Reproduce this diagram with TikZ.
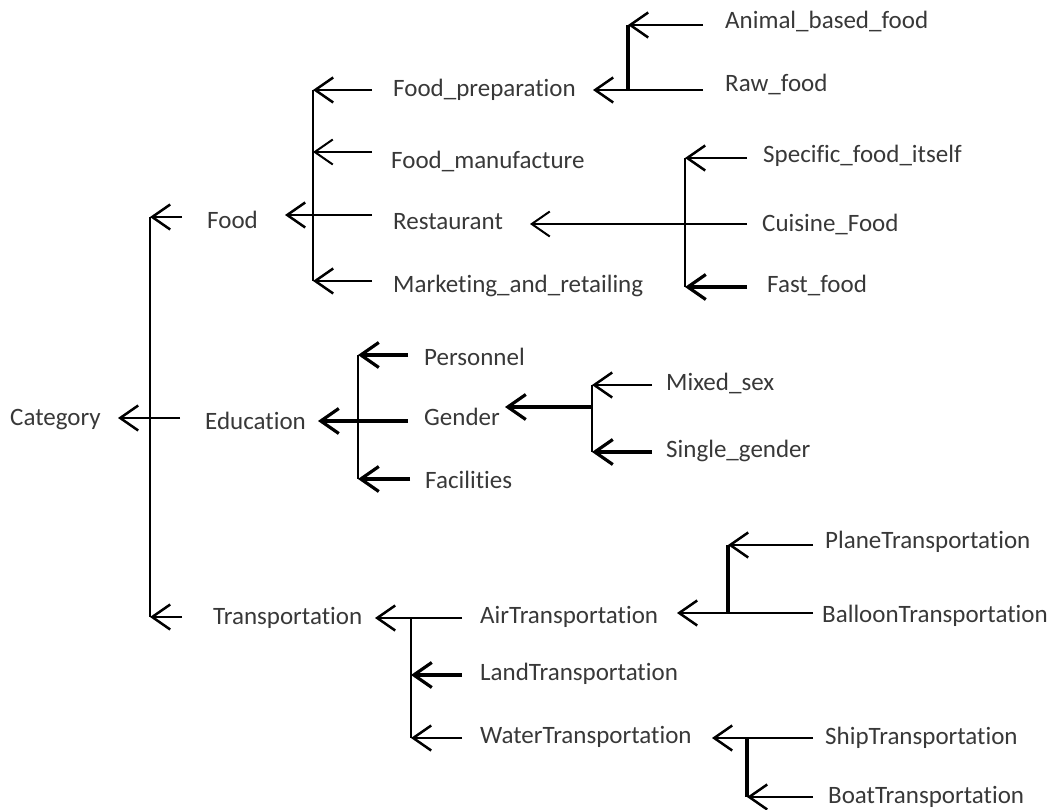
\documentclass[tikz,border=0pt]{standalone}
\usepackage{fontspec}
\setmainfont{Carlito}[Ligatures=NoCommon]
\usetikzlibrary{arrows.meta}

\begin{document}
\begin{tikzpicture}[x=1pt,y=-1pt,
  lbl/.style={anchor=west, inner sep=0pt, text height=16pt, text depth=0pt,
              font=\fontsize{25}{30}\selectfont, text=black!78},
  link/.style={line width=2.5pt, black},
  arr/.style={link, -{Straight Barb[length=18pt,width=25pt]}},
  heavy/.style={line width=3.2pt}]
\useasboundingbox (0,0) rectangle (1061,810);

% ---------- labels ----------
\node[lbl] (cat)   at (10,418)  {Category};
\node[lbl] (food)  at (207,221) {Food};
\node[lbl] (edu)   at (205,421) {Education};
\node[lbl] (tr)    at (213,616) {Transportation};

\node[lbl] (fprep) at (393,89)  {Food\_preparation};
\node[lbl] (fman)  at (391,161) {Food\_manufacture};
\node[lbl] (rest)  at (393,222) {Restaurant};
\node[lbl] (mkt)   at (393,285) {Marketing\_and\_retailing};

\node[lbl] (anim)  at (725,21)  {Animal\_based\_food};
\node[lbl] (raw)   at (725,84)  {Raw\_food};

\node[lbl] (spec)  at (763,155) {Specific\_food\_itself};
\node[lbl] (cuis)  at (762,224) {Cuisine\_Food};
\node[lbl] (fast)  at (767,285) {Fast\_food};

\node[lbl] (pers)  at (424,358) {Personnel};
\node[lbl] (gend)  at (424,418) {Gender};
\node[lbl] (faci)  at (425,480) {Facilities};

\node[lbl] (mix)   at (666,383) {Mixed\_sex};
\node[lbl] (sing)  at (666,449) {Single\_gender};

\node[lbl] (air)   at (480,615) {AirTransportation};
\node[lbl] (land)  at (480,672) {LandTransportation};
\node[lbl] (water) at (480,735) {WaterTransportation};

\node[lbl] (plane) at (825,540) {PlaneTransportation};
\node[lbl] (ball)  at (822,614) {BalloonTransportation};
\node[lbl] (ship)  at (825,736) {ShipTransportation};
\node[lbl] (boat)  at (828,795) {BoatTransportation};

% ---------- Category ----------
\coordinate (c-food) at (182,217);  \coordinate (c-top) at (150,217);
\coordinate (c-edu)  at (180,418);  \coordinate (c-tip) at (118,418);
\coordinate (c-tr)   at (182,617);  \coordinate (c-bot) at (150,617);
\draw[link] (c-top) -- (c-bot);
\draw[arr] (c-food) -- (c-top);
\draw[arr] (c-edu) -- (c-tip);
\draw[arr] (c-tr) -- (c-bot);

% ---------- Food ----------
\coordinate (f-prep) at (372,90);  \coordinate (f-top) at (313,90);
\coordinate (f-man)  at (372,152); \coordinate (f-man-t) at (313,152);
\coordinate (f-rest) at (372,215); \coordinate (f-tip) at (285,215);
\coordinate (f-mkt)  at (372,281); \coordinate (f-bot) at (313,281);
\draw[link] (f-top) -- (f-bot);
\draw[arr] (f-prep) -- (f-top);
\draw[arr, line width=2pt] (f-man) -- (f-man-t);
\draw[arr] (f-rest) -- (f-tip);
\draw[arr] (f-mkt) -- (f-bot);

% ---------- Food_preparation ----------
\coordinate (p-anim) at (703,25); \coordinate (p-top) at (628,25);
\coordinate (p-raw)  at (703,90); \coordinate (p-bot) at (628,90);
\coordinate (p-tip)  at (593,90);
\draw[link, heavy] (p-top) -- (p-bot);
\draw[arr] (p-anim) -- (p-top);
\draw[arr] (p-raw) -- (p-tip);

% ---------- Restaurant ----------
\coordinate (r-spec) at (747,158); \coordinate (r-top) at (685,158);
\coordinate (r-cuis) at (747,224); \coordinate (r-tip) at (530,224);
\coordinate (r-fast) at (747,287); \coordinate (r-bot) at (685,287);
\draw[link] (r-top) -- (r-bot);
\draw[arr] (r-spec) -- (r-top);
\draw[arr, line width=2pt] (r-cuis) -- (r-tip);
\draw[arr, heavy] (r-fast) -- (r-bot);

% ---------- Education ----------
\coordinate (e-pers) at (408,355); \coordinate (e-top) at (358,355);
\coordinate (e-gend) at (408,421); \coordinate (e-tip) at (318,421);
\coordinate (e-faci) at (410,479); \coordinate (e-bot) at (358,479);
\draw[link] (e-top) -- (e-bot);
\draw[arr, heavy] (e-pers) -- (e-top);
\draw[arr, heavy] (e-gend) -- (e-tip);
\draw[arr, heavy] (e-faci) -- (e-bot);

% ---------- Gender ----------
\coordinate (g-mix)  at (652,385); \coordinate (g-top) at (592,385);
\coordinate (g-sing) at (652,452); \coordinate (g-bot) at (592,452);
\coordinate (g-mid)  at (592,407); \coordinate (g-tip) at (505,407);
\draw[link] (g-top) -- (g-bot);
\draw[arr] (g-mix) -- (g-top);
\draw[arr, heavy] (g-sing) -- (g-bot);
\draw[arr, heavy] (g-mid) -- (g-tip);

% ---------- Transportation ----------
\coordinate (t-air)   at (462,618); \coordinate (t-top) at (411,618);
\coordinate (t-tip)   at (375,618);
\coordinate (t-land)  at (462,675); \coordinate (t-land-t) at (411,675);
\coordinate (t-water) at (462,738); \coordinate (t-bot) at (411,738);
\draw[link] (t-top) -- (t-bot);
\draw[arr] (t-air) -- (t-tip);
\draw[arr, heavy] (t-land) -- (t-land-t);
\draw[arr] (t-water) -- (t-bot);

% ---------- AirTransportation ----------
\coordinate (a-plane) at (813,545); \coordinate (a-top) at (728,545);
\coordinate (a-ball)  at (813,613); \coordinate (a-bot) at (728,613);
\coordinate (a-tip)   at (677,613);
\draw[link, heavy] (a-top) -- (a-bot);
\draw[arr] (a-plane) -- (a-top);
\draw[arr] (a-ball) -- (a-tip);

% ---------- WaterTransportation ----------
\coordinate (w-ship) at (813,738); \coordinate (w-top) at (747,738);
\coordinate (w-tip)  at (712,738);
\coordinate (w-boat) at (813,797); \coordinate (w-bot) at (747,797);
\draw[link, heavy] (w-top) -- (w-bot);
\draw[arr] (w-ship) -- (w-tip);
\draw[arr] (w-boat) -- (w-bot);
\end{tikzpicture}
\end{document}
